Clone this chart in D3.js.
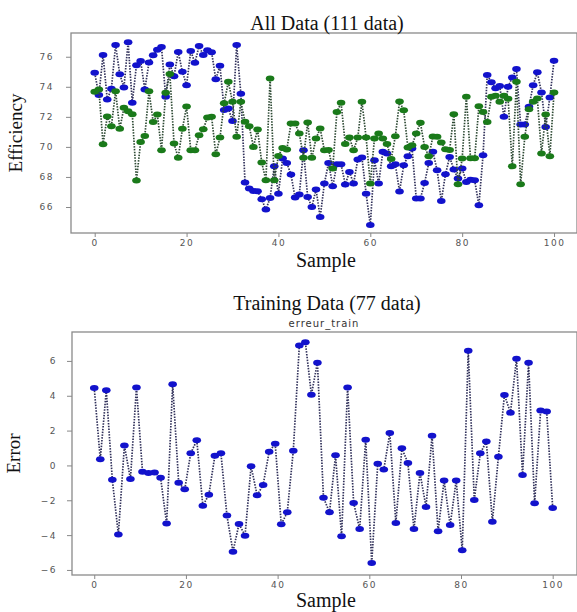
<!DOCTYPE html>
<html>
<head>
<meta charset="utf-8">
<script src="https://cdn.jsdelivr.net/npm/d3@7"></script>
<style>
  body { margin: 0; background: #fff; }
  .axis .tick text { font-family: "DejaVu Sans", sans-serif; font-size: 9px; fill: #555; letter-spacing: 1.5px; }
  .axis path, .axis line { stroke: #888; }
  .serif { font-family: "Liberation Serif", "Times New Roman", serif; fill: #111; }
</style>
</head>
<body>
<div id="chart"></div>
<script>
// Efficiency, all 111 samples (blue and green series)
const effBlue = [74.93, 73.45, 76.11, 73.16, 73.87, 76.78, 74.84, 73.96, 76.96, 72.93,
  75.44, 75.71, 73.82, 75.62, 76.1, 76.46, 76.64, 73.33, 75.49, 74.7,
  76.32, 75.0, 74.11, 76.38, 75.6, 76.72, 76.11, 76.44, 76.3, 74.5,
  75.4, 72.45, 72.56, 71.72, 76.78, 73.53,
  67.63, 67.23, 67.07, 67.05, 66.51, 65.83, 66.6, 68.71, 66.89, 69.23,
  68.93, 68.16, 66.63, 66.83, 69.78, 66.67, 66.0, 67.16, 65.33, 67.56,
  68.93, 67.38, 68.85, 68.85, 67.49, 68.33, 67.56, 69.16, 69.29, 66.89,
  64.8, 69.11, 67.56, 69.67, 69.56,
  68.71, 68.84, 67.04, 68.78, 69.38, 69.89, 66.56, 66.56, 67.6, 68.93,
  69.67, 68.44, 66.4,
  68.18, 69.33, 68.49, 67.89, 68.56, 67.67, 67.82, 67.78,
  66.11, 69.45, 74.78, 74.3, 73.9, 74.05, 72.0, 74.0, 74.62, 75.18,
  71.49, 71.49, 72.67, 74.11, 74.96, 73.62, 71.33, 73.29, 75.73];

const effGreen = [73.67, 73.82, 70.18, 72.02, 71.38, 73.71, 71.2, 72.6, 72.38, 72.18,
  67.77, 70.33, 70.72, 73.7, 71.66, 72.16, 69.78, 73.6, 74.85, 70.22,
  69.27, 71.2, 72.69, 69.78, 69.78, 70.78, 71.18, 71.96, 72.0, 69.51,
  70.62, 72.9, 74.33, 73.0, 70.67,
  73.0, 71.67, 71.38, 70.0, 71.16, 68.96, 67.78, 74.56, 67.78, 69.4,
  69.93, 69.82, 71.56, 71.56, 70.89, 69.27, 71.62, 69.27, 70.56, 71.22,
  69.78, 69.8, 68.56, 72.33, 72.93,
  70.2, 70.62, 69.78, 70.62, 73.0, 70.62, 67.56, 70.56, 70.89, 70.56,
  70.2, 69.2, 70.71, 73.02, 72.44, 69.96, 70.11, 70.9, 71.6, 70.0,
  69.38, 70.7, 70.67, 70.3,
  69.85, 69.8, 72.18, 67.51, 69.23, 73.33, 69.25, 69.25, 72.7, 72.32, 71.65,
  73.33, 73.4, 73.0, 73.4, 73.2, 68.71, 74.33, 67.51, 70.67, 72.5,
  73.0, 73.22, 69.56, 72.16, 69.38, 73.62];

// Training error, 77 samples
const errTrain = [4.45, 0.35, 4.31, -0.82, -3.97, 1.14, -0.78, 4.47, -0.36, -0.43,
  -0.4, -0.7, -3.34, 4.66, -1.0, -1.37, 0.7, 1.44, -2.31, -1.68,
  0.56, 0.7, -2.88, -4.95, -3.36, -4.03, -0.05, -1.71, -1.12, 0.79,
  1.25, -3.38, -2.69, 0.85, 6.88, 7.07, 4.06, 5.9, -1.85, -2.69,
  0.58, -4.07, 4.47, -2.15, -3.65, 1.48, -5.6, 0.09, -0.24, 1.86,
  -3.3, 0.98, 0.14, -3.65, -0.43, -2.38, 1.71, -3.78, -0.87, -3.42,
  -0.87, -4.87, 6.59, -1.98, 0.7, 1.37, -3.23, 0.5, 4.05, 3.03,
  6.13, -0.55, 5.9, -2.17, 3.16, 3.09, -2.44];

// samples are spread evenly over the 0..100 sample axis
const effSamples = effBlue.map((_, i) => i * 100 / (effBlue.length - 1));
const errSamples = errTrain.map((_, i) => i * 100 / (errTrain.length - 1));

const sampleTicks = [0, 20, 40, 60, 80, 100];
const effTicks = [66, 68, 70, 72, 74, 76];
const errTicks = [-6, -4, -2, 0, 2, 4, 6];

const width = 577, height = 612;
const svg = d3.select('#chart').append('svg')
    .attr('width', width)
    .attr('height', height);

function drawPanel(cfg) {
    const x = d3.scaleLinear().domain(cfg.xDomain).range([cfg.left, width]);
    const y = d3.scaleLinear().domain(cfg.yDomain).range([cfg.bottom, cfg.top]);

    const g = svg.append('g');

    // frame
    g.append('rect')
        .attr('x', cfg.left).attr('y', cfg.top)
        .attr('width', width - cfg.left).attr('height', cfg.bottom - cfg.top)
        .attr('fill', 'none').attr('stroke', '#8a8a8a').attr('stroke-width', 1.3);

    g.append('g').attr('class', 'axis')
        .attr('transform', `translate(0,${cfg.bottom})`)
        .call(d3.axisBottom(x).tickValues(sampleTicks).tickSize(4).tickPadding(3))
        .call(a => a.select('.domain').remove());

    g.append('g').attr('class', 'axis')
        .attr('transform', `translate(${cfg.left},0)`)
        .call(d3.axisLeft(y).tickValues(cfg.yTicks).tickSize(5).tickPadding(cfg.yPad))
        .call(a => a.select('.domain').remove());

    cfg.series.forEach(s => {
        const pts = s.values.map((v, i) => [s.samples[i], v]);
        g.append('path')
            .datum(pts)
            .attr('fill', 'none')
            .attr('stroke', s.line)
            .attr('stroke-width', 1.7)
            .attr('stroke-dasharray', '1.5,1.3')
            .attr('d', d3.line().x(d => x(d[0])).y(d => y(d[1])));
        g.append('g').selectAll('ellipse')
            .data(pts)
            .enter()
            .append('ellipse')
            .attr('cx', d => x(d[0]))
            .attr('cy', d => y(d[1]))
            .attr('rx', 4.3)
            .attr('ry', 3)
            .attr('fill', s.color);
    });

    // title
    svg.append('text').attr('class', 'serif')
        .attr('x', 327).attr('y', cfg.titleY)
        .attr('text-anchor', 'middle').attr('font-size', '20px')
        .text(cfg.title);
    // x label
    svg.append('text').attr('class', 'serif')
        .attr('x', 326).attr('y', cfg.xLabelY)
        .attr('text-anchor', 'middle').attr('font-size', '20px')
        .text('Sample');
    // y label
    svg.append('text').attr('class', 'serif')
        .attr('transform', `translate(${cfg.yLabelX},${(cfg.top + cfg.bottom) / 2}) rotate(-90)`)
        .attr('text-anchor', 'middle').attr('font-size', '19px')
        .text(cfg.yLabel);
}

drawPanel({
    left: 71, top: 33, bottom: 233,
    xDomain: [-5.16, 105.0], yDomain: [64.27, 77.58],
    yTicks: effTicks, yPad: 12,
    title: 'All Data (111 data)', titleY: 30, xLabelY: 267,
    yLabel: 'Efficiency', yLabelX: 22,
    series: [
        { samples: effSamples, values: effBlue, color: '#1212cc', line: '#30305a' },
        { samples: effSamples, values: effGreen, color: '#1a7a1a', line: '#2e4a34' }
    ]
});

drawPanel({
    left: 72, top: 332, bottom: 575,
    xDomain: [-4.85, 105.3], yDomain: [-6.29, 7.66],
    yTicks: errTicks, yPad: 10,
    title: 'Training Data (77 data)', titleY: 310, xLabelY: 607,
    yLabel: 'Error', yLabelX: 20,
    series: [
        { samples: errSamples, values: errTrain, color: '#1212cc', line: '#30305a' }
    ]
});

// subplot name above the training panel
svg.append('text')
    .attr('x', 324).attr('y', 327)
    .attr('text-anchor', 'middle')
    .attr('font-family', '"DejaVu Sans", sans-serif')
    .attr('font-size', '10px')
    .attr('letter-spacing', '1px')
    .attr('fill', '#333')
    .text('erreur_train');
</script>
</body>
</html>
